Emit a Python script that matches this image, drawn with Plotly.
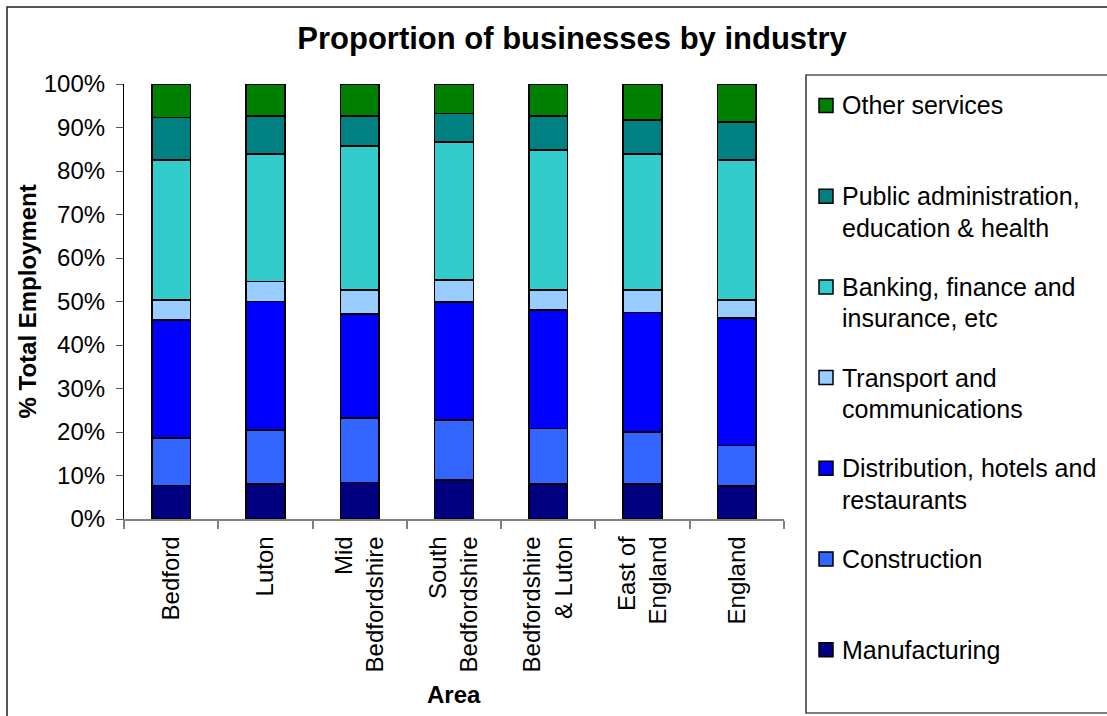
import plotly.graph_objects as go

# ---- data (percent of businesses) ----
areas = ["Bedford", "Luton", "Mid<br>Bedfordshire", "South<br>Bedfordshire",
         "Bedfordshire<br>& Luton", "East of<br>England", "England"]

manufacturing = [7.7, 8.0, 8.4, 9.0, 8.0, 8.0, 7.6]
construction = [10.9, 12.5, 14.8, 13.8, 12.8, 12.0, 9.3]
distribution = [27.1, 29.5, 23.9, 27.1, 27.3, 27.5, 29.3]
transport = [4.6, 4.6, 5.5, 5.0, 4.5, 5.1, 4.1]
banking = [32.2, 29.3, 33.1, 31.8, 32.2, 31.3, 32.2]
public_admin = [9.8, 8.8, 7.0, 6.5, 7.9, 7.8, 8.8]
other_services = [7.7, 7.3, 7.3, 6.8, 7.3, 8.3, 8.7]

series_names = ["Manufacturing", "Construction", "Distribution, hotels and<br>restaurants",
                "Transport and<br>communications", "Banking, finance and<br>insurance, etc",
                "Public administration,<br>education & health", "Other services"]
series_values = [manufacturing, construction, distribution, transport, banking,
                 public_admin, other_services]
series_colors = ["#000080", "#3366FF", "#0000FF", "#99CCFF", "#33CCCC", "#008080", "#008000"]

FONT = "Liberation Sans, Arial, sans-serif"
W, H = 1107, 716
L, R, T, B = 124, 784, 84, 519


def xp(px):
    return (px - L) / (R - L)


def yp(py):
    return (B - py) / (B - T)


fig = go.Figure()
for name, vals, col in zip(series_names, series_values, series_colors):
    fig.add_trace(go.Bar(
        x=areas, y=vals, name=name.replace("<br>", " "),
        marker=dict(color=col, line=dict(color="black", width=1.6)),
        showlegend=False,
    ))

shapes = []
annotations = []

# outer chart border
shapes.append(dict(type="rect", xref="paper", yref="paper",
                   x0=xp(7), x1=xp(1125), y0=yp(730), y1=yp(7),
                   line=dict(color="#222222", width=1.5), fillcolor="rgba(0,0,0,0)", layer="below"))
# legend box
shapes.append(dict(type="rect", xref="paper", yref="paper",
                   x0=xp(806), x1=xp(1125), y0=yp(713), y1=yp(75),
                   line=dict(color="black", width=1.2), fillcolor="rgba(0,0,0,0)"))

# manual legend (reversed order, top = Other services)
start_y = 105.5
step = 90.7
line_gap = 31.5
for i, (name, col) in enumerate(zip(series_names[::-1], series_colors[::-1])):
    cy = start_y + i * step
    shapes.append(dict(type="rect", xref="paper", yref="paper",
                       x0=xp(819), x1=xp(833), y0=yp(cy + 7), y1=yp(cy - 7),
                       line=dict(color="black", width=1.5), fillcolor=col))
    for k, part in enumerate(name.split("<br>")):
        annotations.append(dict(text=part, xref="paper", yref="paper",
                                x=xp(840), y=yp(cy + k * line_gap),
                                xanchor="left", yanchor="middle", showarrow=False,
                                font=dict(family=FONT, size=25, color="black")))

# axis titles
annotations.append(dict(text="<b>% Total Employment</b>", xref="paper", yref="paper",
                        x=xp(27), y=0.5, textangle=-90, xanchor="center", yanchor="middle",
                        showarrow=False, font=dict(family=FONT, size=24, color="black")))
annotations.append(dict(text="<b>Area</b>", xref="paper", yref="paper",
                        x=xp(454), y=yp(694), xanchor="center", yanchor="middle",
                        showarrow=False, font=dict(family=FONT, size=24, color="black")))

fig.update_layout(
    width=W, height=H,
    barmode="stack", barnorm="percent", bargap=0.59,
    paper_bgcolor="white", plot_bgcolor="white",
    margin=dict(l=L, r=W - R, t=T, b=H - B, autoexpand=False),
    title=dict(text="<b>Proportion of businesses by industry</b>",
               x=572 / W, xref="container", xanchor="center",
               y=1 - 38 / H, yref="container", yanchor="middle",
               font=dict(family=FONT, size=31, color="black")),
    shapes=shapes, annotations=annotations,
    font=dict(family=FONT, size=24, color="black"),
)
fig.update_yaxes(range=[0, 100], dtick=10, ticksuffix="%", showgrid=False, zeroline=False,
                 showline=True, linecolor="black", linewidth=1.2,
                 ticks="outside", ticklen=7, tickcolor="#555555", tickwidth=1.2,
                 ticklabelstandoff=6,
                 tickfont=dict(family=FONT, size=24, color="black"))
fig.update_xaxes(showgrid=False, showline=True, linecolor="#808080", linewidth=1.5,
                 ticks="outside", tickson="boundaries", ticklen=8, tickcolor="#808080", tickwidth=1.5,
                 tickangle=-90, ticklabelstandoff=6,
                 tickfont=dict(family=FONT, size=24, color="black"))

fig.write_html("out.html")
